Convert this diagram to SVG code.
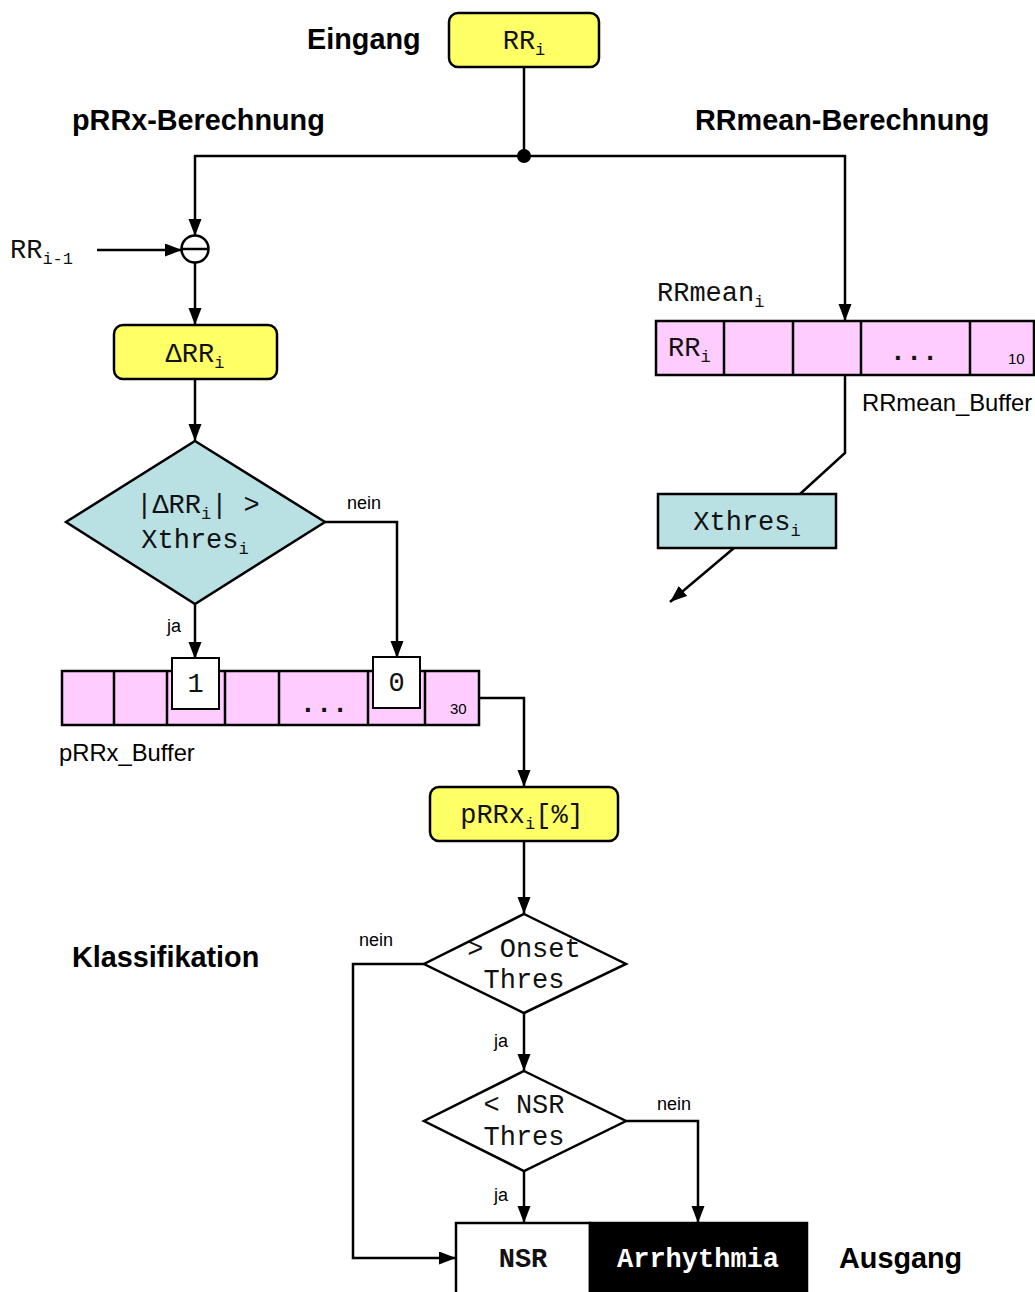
<svg xmlns="http://www.w3.org/2000/svg" width="1035" height="1292" viewBox="0 0 1035 1292">
<style>
.ln{fill:none;stroke:#000;stroke-width:2.5}
.arr{marker-end:url(#ah)}
.yel{fill:#FFFF66;stroke:#000;stroke-width:2.5}
.cyn{fill:#B9E0E3;stroke:#000;stroke-width:2.5}
.pink{fill:#FFCCFF;stroke:#000;stroke-width:2.5}
.mono{font-family:"Liberation Mono","Courier New",monospace;font-size:27px;fill:#111}
.sub{font-size:17px}
.hb{font-family:"Liberation Sans",Arial,sans-serif;font-weight:bold;font-size:28.8px;fill:#000}
.hs{font-family:"Liberation Sans",Arial,sans-serif;font-size:18px;fill:#000}
.hm{font-family:"Liberation Sans",Arial,sans-serif;font-size:23.8px;fill:#000}
.num{font-family:"Liberation Sans",Arial,sans-serif;font-size:15px;fill:#000}
</style>
<defs>
<marker id="ah" markerUnits="userSpaceOnUse" markerWidth="18" markerHeight="14" refX="17" refY="6.5" orient="auto">
<path d="M0,0 L17,6.5 L0,13 z" fill="#000"/>
</marker>
</defs>
<rect width="1035" height="1292" fill="#fff"/>

<g id="labels">
<text class="hb" x="307" y="49">Eingang</text>
<text class="hb" x="72" y="130">pRRx-Berechnung</text>
<text class="hb" x="695" y="130">RRmean-Berechnung</text>
<text class="hb" x="72" y="967">Klassifikation</text>
<text class="hb" x="839" y="1268">Ausgang</text>
<text class="hm" x="59" y="761">pRRx_Buffer</text>
<text class="hm" x="862" y="411">RRmean_Buffer</text>
<text class="hs" x="347" y="509">nein</text>
<text class="hs" x="167" y="632">ja</text>
<text class="hs" x="359" y="946">nein</text>
<text class="hs" x="494" y="1047">ja</text>
<text class="hs" x="657" y="1110">nein</text>
<text class="hs" x="494" y="1201">ja</text>
</g>

<g id="connectors">
<line class="ln" x1="524" y1="67" x2="524" y2="156"/>
<polyline class="ln arr" points="524,156 195,156 195,236"/>
<polyline class="ln arr" points="524,156 845,156 845,321"/>
<circle cx="524" cy="156" r="7" fill="#000"/>
<line class="ln arr" x1="97" y1="250" x2="182" y2="250"/>
<line class="ln arr" x1="195" y1="262" x2="195" y2="325"/>
<line class="ln arr" x1="195" y1="379" x2="195" y2="441"/>
<polyline class="ln arr" points="325,522 397,522 397,658"/>
<line class="ln arr" x1="195" y1="604" x2="195" y2="659"/>
<polyline class="ln arr" points="479,698 524,698 524,787"/>
<line class="ln arr" x1="524" y1="841" x2="524" y2="914"/>
<polyline class="ln arr" points="424,964 353,964 353,1258 456,1258"/>
<line class="ln arr" x1="524" y1="1013" x2="524" y2="1071"/>
<polyline class="ln arr" points="626,1121 698,1121 698,1223"/>
<line class="ln arr" x1="524" y1="1171" x2="524" y2="1223"/>
<polyline class="ln" points="845,375 845,453 800,494"/>
<line class="ln arr" x1="734" y1="548" x2="670" y2="602"/>
</g>

<g id="input">
<rect class="yel" x="449" y="13" width="150" height="54" rx="9"/>
<text class="mono" x="524" y="49" text-anchor="middle">RR<tspan class="sub" dy="6">i</tspan></text>
</g>

<g id="rr-prev">
<text class="mono" x="10" y="258" font-size="28">RR<tspan class="sub" dy="6" font-size="18">i-1</tspan></text>
</g>

<g id="subtract">
<circle cx="195" cy="249" r="13.5" fill="#fff" stroke="#000" stroke-width="2.5"/>
<line x1="181.5" y1="249" x2="208.5" y2="249" stroke="#000" stroke-width="2.5"/>
</g>

<g id="delta">
<rect class="yel" x="114" y="325" width="163" height="54" rx="9"/>
<text class="mono" x="195" y="362" text-anchor="middle">ΔRR<tspan class="sub" dy="6">i</tspan></text>
</g>

<g id="decision1">
<polygon class="cyn" points="195,441 325,522 195,604 66,522"/>
<text class="mono" x="198" y="513" text-anchor="middle">|ΔRR<tspan class="sub" dy="6">i</tspan><tspan dy="-6">| &gt;</tspan></text>
<text class="mono" x="195" y="548" text-anchor="middle">Xthres<tspan class="sub" dy="6">i</tspan></text>
</g>

<g id="prrx-buffer">
<rect class="pink" x="62" y="671" width="417" height="54"/>
<path class="ln" d="M114,671V725M167,671V725M225,671V725M279,671V725M368,671V725M425,671V725"/>
<text class="mono" x="324" y="712" text-anchor="middle" font-weight="bold">...</text>
<text class="num" x="450" y="714">30</text>
<rect x="172" y="658" width="47" height="51" fill="#fff" stroke="#000" stroke-width="2"/>
<text class="mono" x="195.5" y="692" text-anchor="middle">1</text>
<rect x="373" y="657" width="47" height="51" fill="#fff" stroke="#000" stroke-width="2"/>
<text class="mono" x="396.5" y="691" text-anchor="middle">0</text>
</g>

<g id="prrx">
<rect class="yel" x="430" y="787" width="188" height="54" rx="9"/>
<text class="mono" x="522" y="823" text-anchor="middle" font-size="28">pRRx<tspan class="sub" dy="6">i</tspan><tspan dy="-6">[%]</tspan></text>
</g>

<g id="decision2">
<polygon points="524,914 626,964 524,1013 424,964" fill="#fff" stroke="#000" stroke-width="2.5"/>
<text class="mono" x="524" y="957" text-anchor="middle" font-size="24">&gt; Onset</text>
<text class="mono" x="524" y="988" text-anchor="middle" font-size="24">Thres</text>
</g>

<g id="decision3">
<polygon points="524,1071 626,1121 524,1171 424,1121" fill="#fff" stroke="#000" stroke-width="2.5"/>
<text class="mono" x="524" y="1113" text-anchor="middle" font-size="24">&lt; NSR</text>
<text class="mono" x="524" y="1145" text-anchor="middle" font-size="24">Thres</text>
</g>

<g id="output">
<rect x="456" y="1223" width="134" height="75" fill="#fff" stroke="#000" stroke-width="2.5"/>
<rect x="590" y="1223" width="217" height="75" fill="#000" stroke="#000" stroke-width="2.5"/>
<text class="mono" x="523" y="1267" text-anchor="middle" font-weight="bold" font-size="26">NSR</text>
<text class="mono" x="698" y="1267" text-anchor="middle" font-weight="bold" font-size="28" style="fill:#fff">Arrhythmia</text>
</g>

<g id="rrmean-buffer">
<text class="mono" x="657" y="301">RRmean<tspan class="sub" dy="6">i</tspan></text>
<rect class="pink" x="656" y="321" width="378" height="54"/>
<path class="ln" d="M724,321V375M793,321V375M861,321V375M970,321V375"/>
<text class="mono" x="668" y="356" font-size="25">RR<tspan class="sub" dy="6">i</tspan></text>
<text class="mono" x="914" y="360" text-anchor="middle" font-weight="bold">...</text>
<text class="num" x="1008" y="364">10</text>
</g>

<g id="xthres">
<rect class="cyn" x="658" y="494" width="178" height="54"/>
<text class="mono" x="747" y="530" text-anchor="middle">Xthres<tspan class="sub" dy="6">i</tspan></text>
</g>
</svg>
